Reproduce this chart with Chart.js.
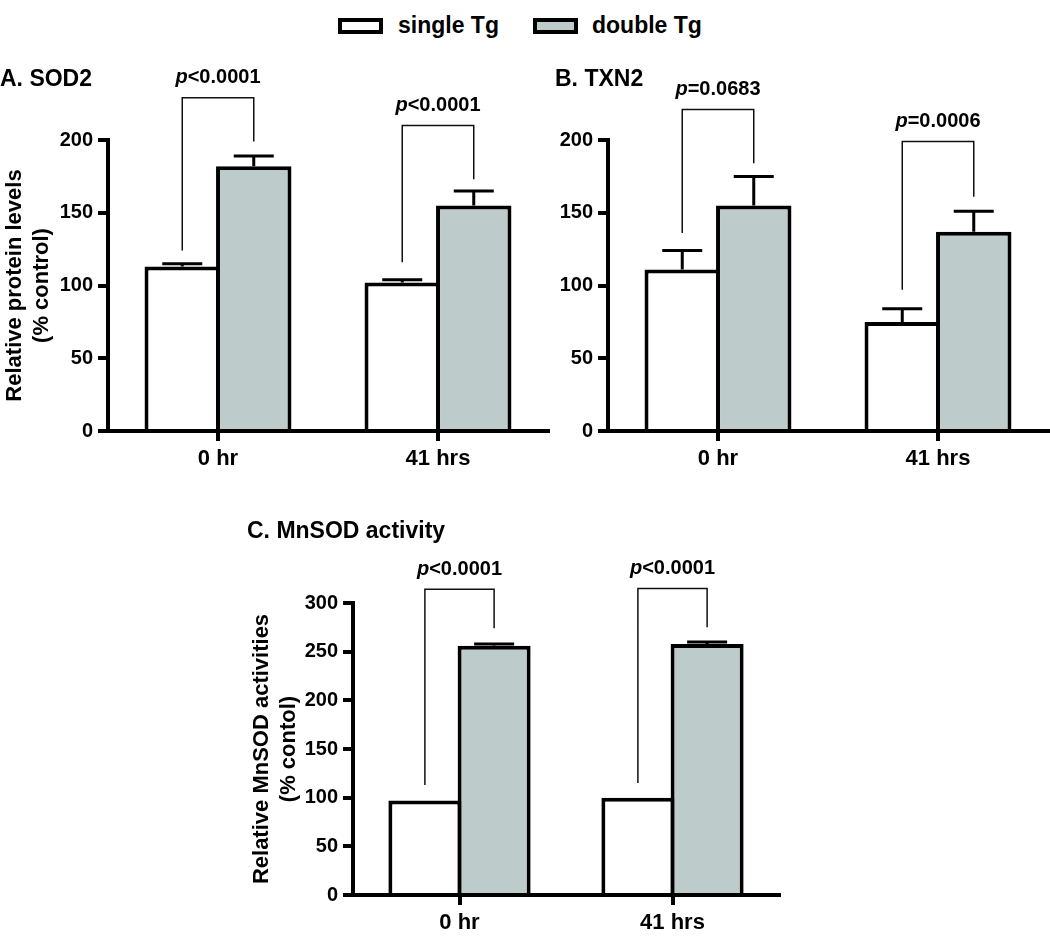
<!DOCTYPE html>
<html lang="en">
<head>
<meta charset="UTF-8">
<title>SOD2, TXN2 and MnSOD activity</title>
<script src="https://cdn.jsdelivr.net/npm/chart.js"></script>
<style>
  body { margin: 0; background: #fff; font-family: "Liberation Sans", Arial, sans-serif; }
  #page { position: relative; width: 1050px; height: 939px; overflow: hidden; }
  canvas { position: absolute; }
  .box { position: absolute; top: 18px; width: 45px; height: 16px; border: 4px solid #000; box-sizing: border-box; }
  .key { position: absolute; top: 11px; font-size: 23px; font-weight: bold; line-height: 28px; color: #000; }
</style>
</head>
<body>
<div id="page">
  <div class="box" style="left:338px; background:#fff;"></div>
  <div class="key" style="left:398px;">single Tg</div>
  <div class="box" style="left:533px; background:#bdcccb;"></div>
  <div class="key" style="left:592px;">double Tg</div>

  <canvas id="chartA" width="551" height="421" style="left:0px; top:60px;"></canvas>
  <canvas id="chartB" width="495" height="421" style="left:555px; top:60px;"></canvas>
  <canvas id="chartC" width="535" height="429" style="left:247px; top:510px;"></canvas>
</div>

<script>
const categories = ['0 hr', '41 hrs'];

// A. SOD2
const sod2Single = [113, 102];
const sod2SingleErr = [2, 2];
const sod2Double = [182, 155];
const sod2DoubleErr = [7, 10];
const sod2P = ['<0.0001', '<0.0001'];
const sod2BracketTop = [229, 210];
const sod2BracketLeft = [124, 116];
const sod2BracketRight = [199, 173];

// B. TXN2
const txn2Single = [111, 75];
const txn2SingleErr = [13, 9];
const txn2Double = [155, 137];
const txn2DoubleErr = [20, 14];
const txn2P = ['=0.0683', '=0.0006'];
const txn2BracketTop = [221, 199];
const txn2BracketLeft = [136, 97];
const txn2BracketRight = [184, 161];

// C. MnSOD activity
const mnsodSingle = [97, 100];
const mnsodSingleErr = [0, 0];
const mnsodDouble = [256, 258];
const mnsodDoubleErr = [2, 2];
const mnsodP = ['<0.0001', '<0.0001'];
const mnsodBracketTop = [314, 315];
const mnsodBracketLeft = [113, 115];
const mnsodBracketRight = [274, 275];

const FONT = '"Liberation Sans", Arial, sans-serif';
const FILL = '#bdcccb';
Chart.defaults.font.family = FONT;
Chart.defaults.color = '#000';

// error bars: upward only, drawn from the bar top
const errorBars = {
    id: 'errorBars',
    afterDatasetsDraw(chart) {
        const ctx = chart.ctx, y = chart.scales.y;
        ctx.save();
        ctx.strokeStyle = '#000';
        ctx.lineWidth = 3;
        chart.data.datasets.forEach((ds, i) => {
            chart.getDatasetMeta(i).data.forEach((bar, j) => {
                const err = ds.errors[j];
                if (!err) return;
                const top = y.getPixelForValue(ds.data[j] + err);
                ctx.beginPath();
                ctx.moveTo(bar.x, bar.y);
                ctx.lineTo(bar.x, top);
                ctx.moveTo(bar.x - 20, top);
                ctx.lineTo(bar.x + 20, top);
                ctx.stroke();
            });
        });
        ctx.restore();
    }
};

// significance brackets with p-values
const brackets = {
    id: 'brackets',
    afterDraw(chart, args, opts) {
        const ctx = chart.ctx, y = chart.scales.y, x = chart.scales.x;
        const m0 = chart.getDatasetMeta(0).data, m1 = chart.getDatasetMeta(1).data;
        ctx.save();
        opts.tops.forEach((t, j) => {
            const yt = y.getPixelForValue(t);
            const yl = y.getPixelForValue(opts.lefts[j]);
            const yr = y.getPixelForValue(opts.rights[j]);
            ctx.strokeStyle = '#111';
            ctx.lineWidth = 1.5;
            ctx.beginPath();
            ctx.moveTo(m0[j].x, yl);
            ctx.lineTo(m0[j].x, yt);
            ctx.lineTo(m1[j].x, yt);
            ctx.lineTo(m1[j].x, yr);
            ctx.stroke();

            const cx = x.getPixelForValue(j), ty = yt - 20;
            ctx.fillStyle = '#000';
            ctx.textBaseline = 'middle';
            ctx.textAlign = 'left';
            ctx.font = 'italic bold 20px ' + FONT;
            const w1 = ctx.measureText('p').width;
            ctx.font = 'bold 20px ' + FONT;
            const w2 = ctx.measureText(opts.labels[j]).width;
            const x0 = cx - (w1 + w2) / 2;
            ctx.font = 'italic bold 20px ' + FONT;
            ctx.fillText('p', x0, ty);
            ctx.font = 'bold 20px ' + FONT;
            ctx.fillText(opts.labels[j], x0 + w1, ty);
        });
        ctx.restore();
    }
};

function makeChart(id, o) {
    return new Chart(document.getElementById(id), {
        type: 'bar',
        data: {
            labels: categories,
            datasets: [
                { label: 'single Tg', data: o.single, errors: o.singleErr, backgroundColor: '#fff', borderColor: '#000', borderWidth: 4 },
                { label: 'double Tg', data: o.double, errors: o.doubleErr, backgroundColor: FILL, borderColor: '#000', borderWidth: 4 }
            ]
        },
        options: {
            responsive: false,
            animation: false,
            layout: { padding: { left: 0, right: o.padRight, top: 0, bottom: 0 } },
            datasets: { bar: { categoryPercentage: 0.65, barPercentage: 1.055 } },
            plugins: {
                legend: { display: false },
                tooltip: { enabled: false },
                title: {
                    display: true, text: o.title, align: 'start', color: '#000',
                    font: { size: 23, weight: 'bold' }, padding: o.titlePad
                },
                brackets: { tops: o.bTop, lefts: o.bLeft, rights: o.bRight, labels: o.pLabels }
            },
            scales: {
                x: {
                    grid: { offset: false, drawOnChartArea: false, tickLength: 10, lineWidth: 4, color: '#000' },
                    border: { color: '#000', width: 4 },
                    ticks: { color: '#000', font: { size: 22, weight: 'bold' }, padding: 5 },
                    afterFit: s => { s.height = o.xHeight; }
                },
                y: {
                    min: 0, max: o.yMax,
                    ticks: { stepSize: 50, color: '#000', font: { size: 20, weight: 'bold' }, padding: 5 },
                    grid: { drawOnChartArea: false, tickLength: 10, lineWidth: 4, color: '#000' },
                    border: { color: '#000', width: 4 },
                    title: o.yTitle
                        ? { display: true, text: o.yTitle, color: '#000', font: { size: 22, weight: 'bold', lineHeight: 1.23 }, padding: { top: 1.5, bottom: 0 } }
                        : { display: false },
                    afterFit: s => { s.width = o.yWidth; }
                }
            }
        },
        plugins: [errorBars, brackets]
    });
}

makeChart('chartA', {
    title: 'A. SOD2', yTitle: ['Relative protein levels', '(% control)'], yMax: 200,
    single: sod2Single, singleErr: sod2SingleErr, double: sod2Double, doubleErr: sod2DoubleErr,
    bTop: sod2BracketTop, bLeft: sod2BracketLeft, bRight: sod2BracketRight, pLabels: sod2P,
    yWidth: 108, padRight: 3, xHeight: 50, titlePad: { top: 6.2, bottom: 46.2 }
});

makeChart('chartB', {
    title: 'B. TXN2', yTitle: null, yMax: 200,
    single: txn2Single, singleErr: txn2SingleErr, double: txn2Double, doubleErr: txn2DoubleErr,
    bTop: txn2BracketTop, bLeft: txn2BracketLeft, bRight: txn2BracketRight, pLabels: txn2P,
    yWidth: 53, padRight: 2, xHeight: 50, titlePad: { top: 6.2, bottom: 46.2 }
});

makeChart('chartC', {
    title: 'C. MnSOD activity', yTitle: ['Relative MnSOD activities', '(% contol)'], yMax: 300,
    single: mnsodSingle, singleErr: mnsodSingleErr, double: mnsodDouble, doubleErr: mnsodDoubleErr,
    bTop: mnsodBracketTop, bLeft: mnsodBracketLeft, bRight: mnsodBracketRight, pLabels: mnsodP,
    yWidth: 106, padRight: 3, xHeight: 44, titlePad: { top: 7.7, bottom: 57.7 }
});
</script>
</body>
</html>
